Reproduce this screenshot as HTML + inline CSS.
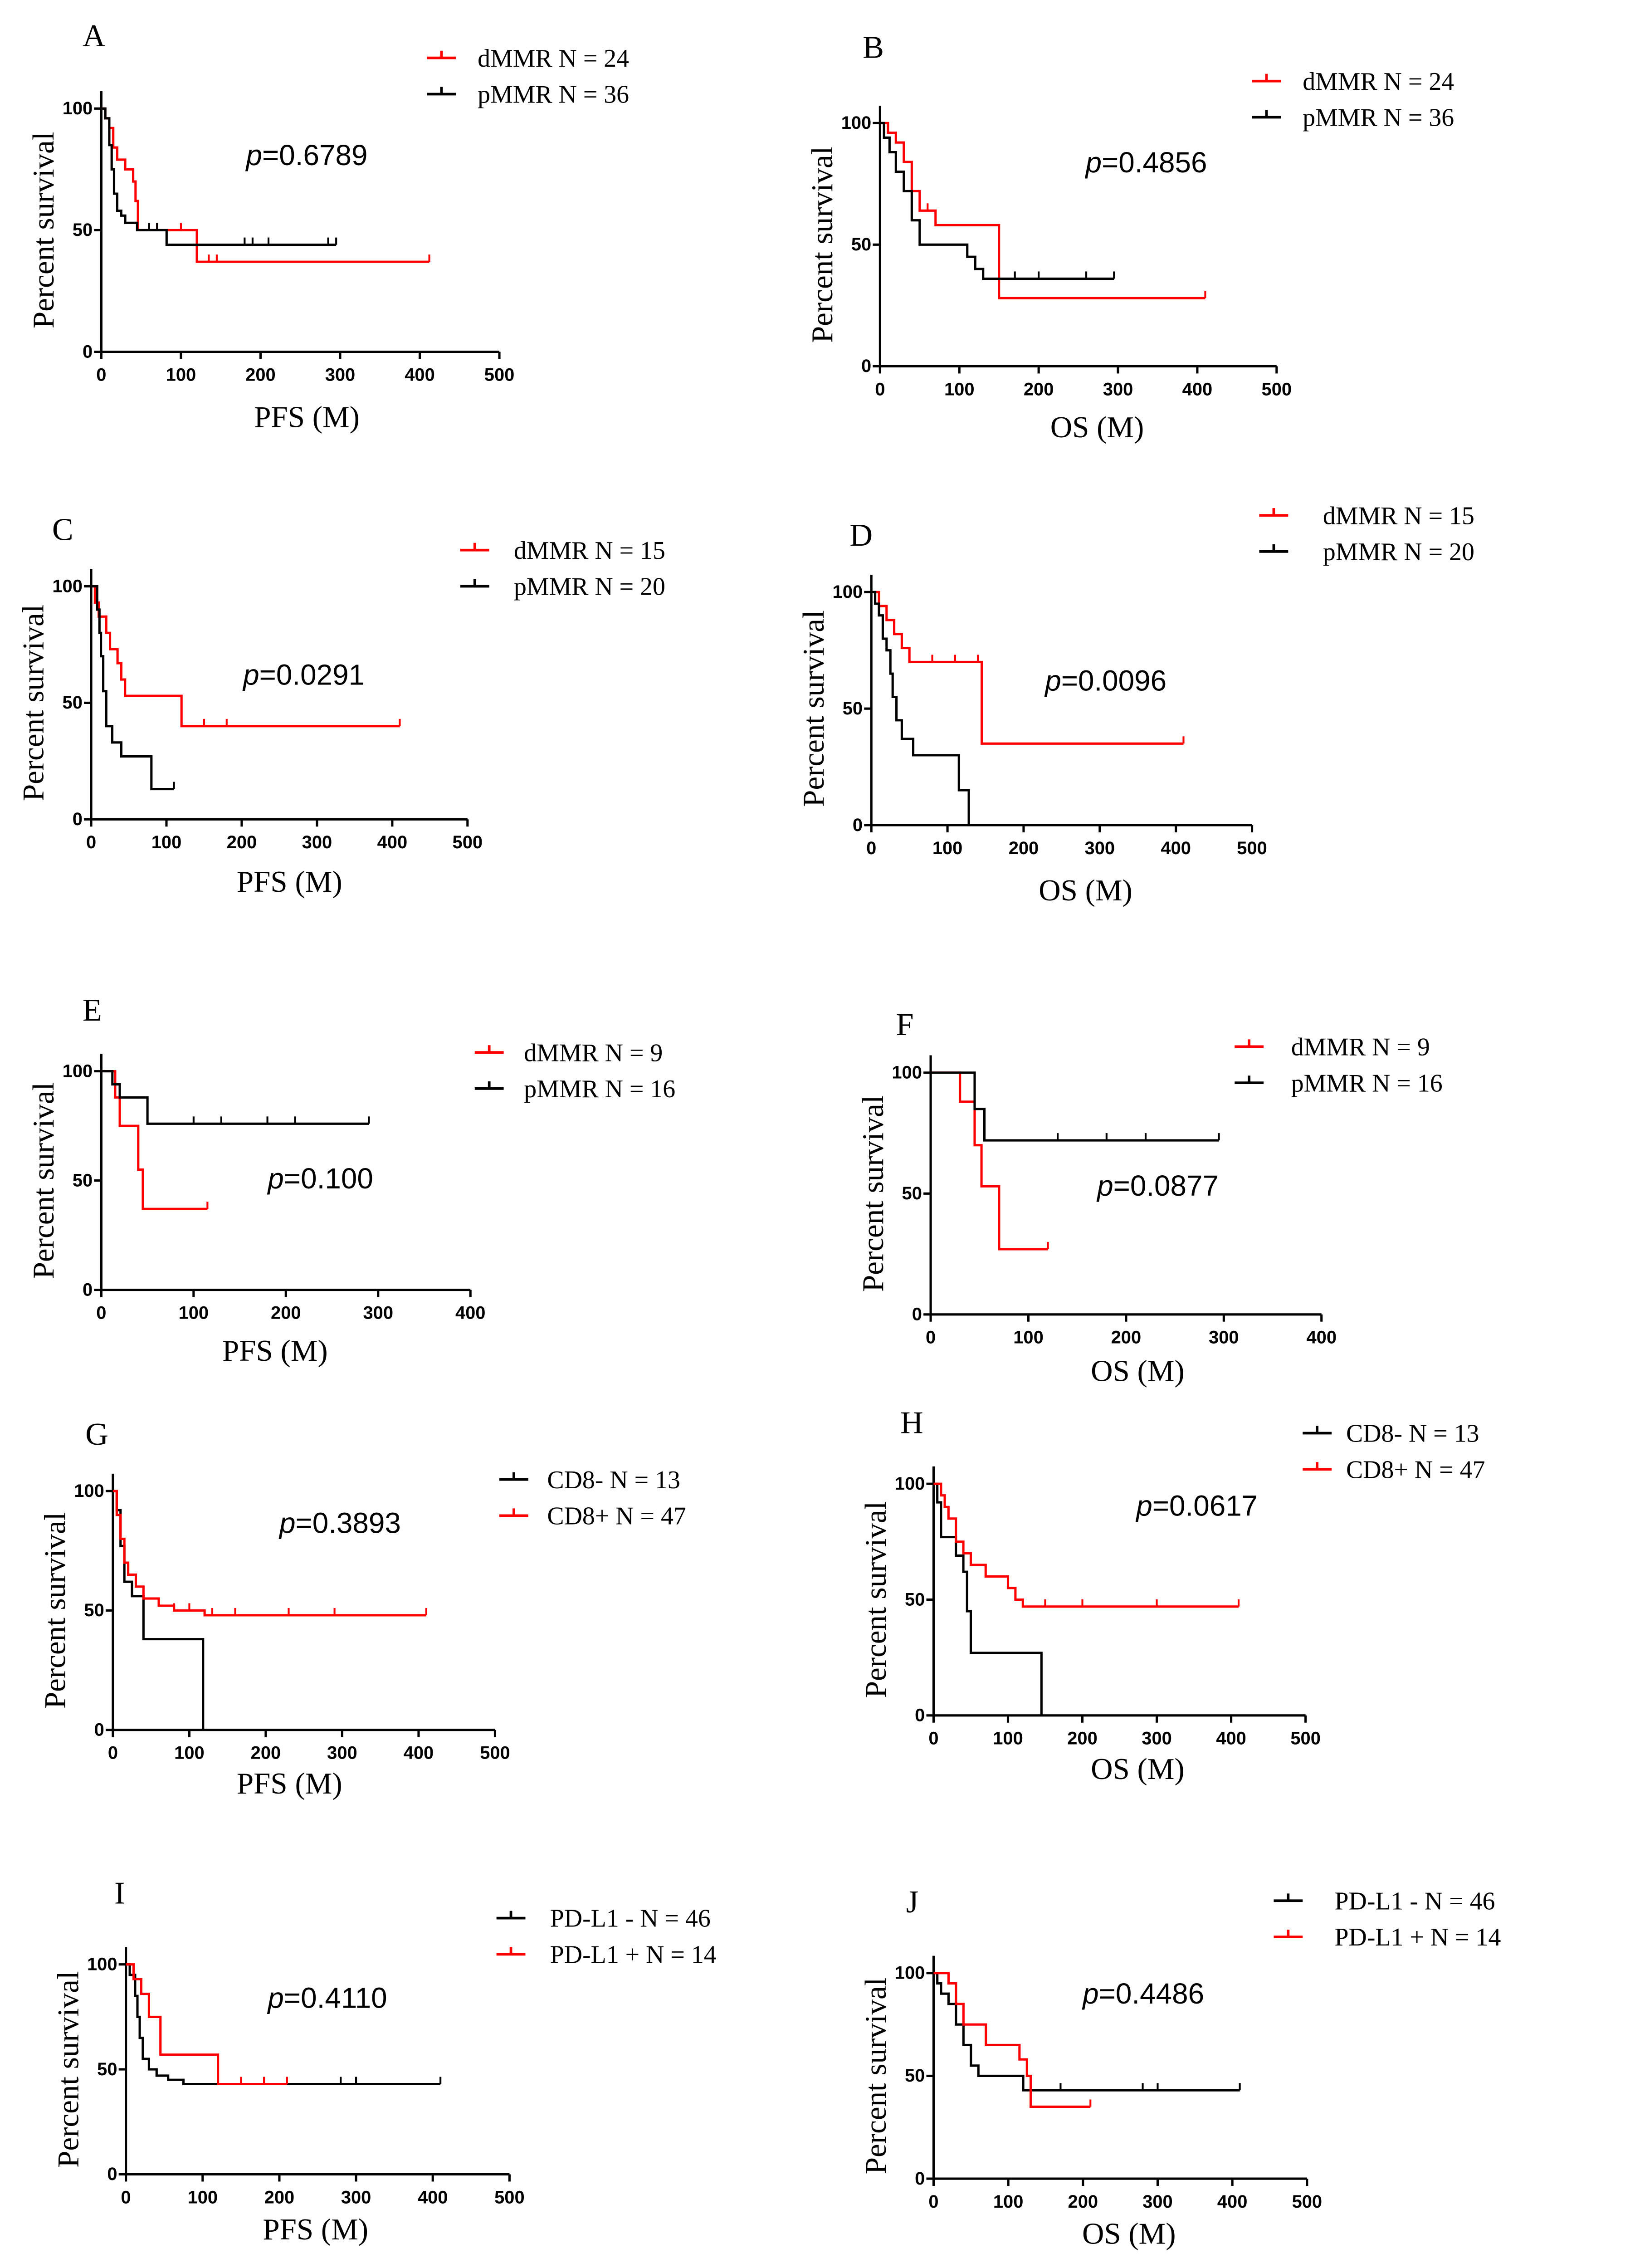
<!DOCTYPE html>
<html><head><meta charset="utf-8"><style>
html,body{margin:0;padding:0;background:#fff;width:3605px;height:5241px;overflow:hidden}
#wrap{width:3605px;height:5241px;overflow:hidden;position:relative}
svg{display:block;position:absolute;left:0;top:0}
.tk{font-family:"Liberation Sans",sans-serif;font-weight:bold;font-size:12.5px;fill:#000}
.lb{font-family:"Liberation Serif",serif;font-size:21px;fill:#000}
.lg{font-family:"Liberation Serif",serif;font-size:17.5px;fill:#000}
.pv{font-family:"Liberation Sans",sans-serif;font-size:20px;fill:#000}
.pl{font-family:"Liberation Serif",serif;font-size:22px;fill:#000}
</style></head><body>
<div id="wrap">
<svg id="fig" width="3605" height="5241" viewBox="0 0 1129.6 1642" preserveAspectRatio="xMinYMin meet" xmlns="http://www.w3.org/2000/svg"></svg>
</div>
<script>
// ---- data: [time, percent] step points ----
const A_red=[[0,100],[5,96],[10,92],[15,84],[20,79],[30,75],[40,70],[43,62],[46,50],[120,50],[120,37],[412,37]];
const A_blk=[[0,100],[5,96],[10,85],[13,75],[16,65],[20,58],[25,56],[30,53],[45,50],[82,50],[82,44],[295,44]];
const B_red=[[0,100],[10,96],[20,92],[30,84],[40,72],[50,64],[70,58],[150,58],[150,28],[410,28]];
const B_blk=[[0,100],[5,94],[12,88],[20,80],[30,72],[40,60],[50,50],[100,50],[110,45],[120,40],[130,36],[295,36]];
const C_red=[[0,100],[5,93],[10,87],[20,80],[25,73],[35,67],[40,60],[45,53],[120,53],[120,40],[410,40]];
const C_blk=[[0,100],[8,90],[11,80],[13,70],[16,55],[20,40],[28,33],[40,27],[80,27],[80,13],[110,13]];
const D_red=[[0,100],[10,94],[20,88],[30,82],[40,76],[50,70],[145,70],[145,35],[410,35]];
const D_blk=[[0,100],[5,95],[10,90],[15,80],[20,75],[25,65],[28,55],[33,45],[40,37],[55,30],[115,30],[115,15],[128,15],[128,0]];
const E_red=[[0,100],[15,88],[20,75],[38,75],[40,55],[45,37],[115,37]];
const E_blk=[[0,100],[12,94],[20,88],[45,88],[50,76],[290,76]];
const F_red=[[0,100],[30,100],[30,88],[45,88],[45,70],[52,53],[65,53],[70,27],[120,27]];
const F_blk=[[0,100],[45,100],[45,85],[55,72],[295,72]];
const G_blk=[[0,100],[5,92],[10,77],[15,62],[25,56],[40,38],[118,38],[118,0]];
const G_red=[[0,100],[5,90],[10,80],[15,70],[20,65],[30,60],[40,55],[60,52],[80,50],[120,48],[410,48]];
const H_blk=[[0,100],[5,92],[10,77],[30,69],[40,62],[45,45],[50,27],[145,27],[145,0]];
const H_red=[[0,100],[10,95],[15,90],[20,85],[30,75],[40,70],[50,65],[70,60],[100,55],[110,50],[120,47],[410,47]];
const I_blk=[[0,100],[5,95],[12,85],[15,75],[18,65],[22,55],[30,50],[40,47],[55,45],[75,43],[410,43]];
const I_red=[[0,100],[10,93],[20,86],[30,75],[45,57],[120,57],[120,43],[210,43]];
const J_blk=[[0,100],[5,95],[10,90],[20,85],[30,75],[40,65],[50,55],[60,50],[120,50],[120,43],[410,43]];
const J_red=[[0,100],[20,95],[30,85],[40,75],[70,65],[110,65],[115,58],[125,50],[130,35],[210,35]];
const A_redC=[70,100,135,145,412],A_blkC=[60,70,180,190,210,285,295];
const B_redC=[60,70,410],B_blkC=[170,200,260,295];
const C_redC=[150,180,410],C_blkC=[110];
const D_redC=[80,110,140,410],D_blkC=[];
const E_redC=[115],E_blkC=[100,130,180,210,290];
const F_redC=[120],F_blkC=[130,180,220,295];
const G_redC=[60,80,100,130,160,230,290,410],G_blkC=[];
const H_redC=[100,150,200,300,410],H_blkC=[];
const I_redC=[150,180,210],I_blkC=[280,300,410];
const J_redC=[210],J_blkC=[170,280,300,410];
const xTicks500=["0","100","200","300","400","500"];
const xTicks400=["0","100","200","300","400"];
const yTicks=["0","50","100"];

const panels=[
 {id:"A",ox:70,oy:243,top:75,xe:345,xmax:500,L:[57,32],lg:[295,40],lgx:330,p:[170,114],xl:"PFS (M)",xlc:[212,295],s:[["dMMR N = 24","red",A_red,A_redC],["pMMR N = 36","#000",A_blk,A_blkC]]},
 {id:"B",ox:608,oy:253,top:85,xe:882,xmax:500,L:[596,40],lg:[865,56],lgx:900,p:[750,119],xl:"OS (M)",xlc:[758,302],s:[["dMMR N = 24","red",B_red,B_redC],["pMMR N = 36","#000",B_blk,B_blkC]]},
 {id:"C",ox:63,oy:566,top:405,xe:323,xmax:500,L:[36,373],lg:[318,380],lgx:355,p:[168,473],xl:"PFS (M)",xlc:[200,616],s:[["dMMR N = 15","red",C_red,C_redC],["pMMR N = 20","#000",C_blk,C_blkC]]},
 {id:"D",ox:602,oy:570,top:409,xe:865,xmax:500,L:[587,377],lg:[870,356],lgx:914,p:[722,477],xl:"OS (M)",xlc:[750,622],s:[["dMMR N = 15","red",D_red,D_redC],["pMMR N = 20","#000",D_blk,D_blkC]]},
 {id:"E",ox:70,oy:891,top:740,xe:325,xmax:400,L:[57,705],lg:[328,727],lgx:362,p:[185,821],xl:"PFS (M)",xlc:[190,940],s:[["dMMR N = 9","red",E_red,E_redC],["pMMR N = 16","#000",E_blk,E_blkC]]},
 {id:"F",ox:643,oy:908,top:741,xe:913,xmax:400,L:[619,715],lg:[853,723],lgx:892,p:[758,826],xl:"OS (M)",xlc:[786,954],s:[["dMMR N = 9","red",F_red,F_redC],["pMMR N = 16","#000",F_blk,F_blkC]]},
 {id:"G",ox:78,oy:1195,top:1030,xe:342,xmax:500,L:[59,998],lg:[345,1022],lgx:378,p:[193,1059],xl:"PFS (M)",xlc:[200,1239],s:[["CD8- N = 13","#000",G_blk,G_blkC],["CD8+ N = 47","red",G_red,G_redC]]},
 {id:"H",ox:645,oy:1185,top:1025,xe:902,xmax:500,L:[622,990],lg:[900,990],lgx:930,p:[785,1047],xl:"OS (M)",xlc:[786,1229],s:[["CD8- N = 13","#000",H_blk,H_blkC],["CD8+ N = 47","red",H_red,H_redC]]},
 {id:"I",ox:87,oy:1502,top:1357,xe:352,xmax:500,L:[79,1315],lg:[343,1325],lgx:380,p:[185,1387],xl:"PFS (M)",xlc:[218,1547],s:[["PD-L1 -  N = 46","#000",I_blk,I_blkC],["PD-L1 + N = 14","red",I_red,I_redC]]},
 {id:"J",ox:645,oy:1505,top:1363,xe:903,xmax:500,L:[626,1321],lg:[880,1313],lgx:922,p:[748,1384],xl:"OS (M)",xlc:[780,1550],s:[["PD-L1 -  N = 46","#000",J_blk,J_blkC],["PD-L1 + N = 14","red",J_red,J_redC]]}
];
const pvals={A:"0.6789",B:"0.4856",C:"0.0291",D:"0.0096",E:"0.100",F:"0.0877",G:"0.3893",H:"0.0617",I:"0.4110",J:"0.4486"};
const NS="http://www.w3.org/2000/svg",fig=document.getElementById("fig");
function mk(t,a,parent,txt){const e=document.createElementNS(NS,t);for(const k in a)e.setAttribute(k,a[k]);if(txt!==undefined)e.textContent=txt;parent.appendChild(e);return e;}
panels.forEach(P=>{
 const g=mk("g",{},fig);
 
 
 const X=v=>P.ox+(v/P.xmax)*(P.xe-P.ox), Y=v=>P.oy-(v/100)*(P.oy-P.top);
 const ticks=P.xmax===400?xTicks400:xTicks500;
 const l=mk("text",{x:P.L[0],y:P.L[1],class:"pl"},g,P.id);
 
 
 const ax=mk("path",{d:`M${P.ox},${P.top-12}V${P.oy}H${P.xe}`,stroke:"#000","stroke-width":1.6,fill:"none"},g);
 
 
 ticks.forEach(t=>{const x=X(+t);mk("line",{x1:x,x2:x,y1:P.oy,y2:P.oy+5,stroke:"#000","stroke-width":1.6},g);
  const tt=mk("text",{x:x,y:P.oy+20,class:"tk","text-anchor":"middle"},g,t);
  
  });
 yTicks.forEach(t=>{const y=Y(+t);mk("line",{x1:P.ox-5,x2:P.ox,y1:y,y2:y,stroke:"#000","stroke-width":1.6},g);
  const tt=mk("text",{x:P.ox-6,y:y+4,class:"tk","text-anchor":"end"},g,t);
  
  });
 const yl=mk("text",{x:0,y:0,class:"lb","text-anchor":"middle",transform:`translate(${P.ox-33},${(P.oy+P.top)/2}) rotate(-90)`},g,"Percent survival");
 
 
 const xl=mk("text",{x:P.xlc[0],y:P.xlc[1],class:"lb","text-anchor":"middle"},g,P.xl);
 
 
 const pv=mk("text",{x:P.p[0],y:P.p[1],class:"pv"},g);
 
 
 mk("tspan",{"font-style":"italic"},pv,"p");mk("tspan",{},pv,"="+pvals[P.id]);
 P.s.forEach((S,i)=>{
  const [name,col,pts,cens]=S;
  let d=`M${X(pts[0][0])},${Y(pts[0][1])}`;
  for(let k=1;k<pts.length;k++){d+=`H${X(pts[k][0])}V${Y(pts[k][1])}`;}
  const c=mk("path",{d:d,stroke:col,"stroke-width":1.6,fill:"none"},g);
  
  
  cens.forEach(t=>{let v=pts[0][1];pts.forEach(p=>{if(p[0]<=t)v=p[1];});
   const m=mk("line",{x1:X(t),x2:X(t),y1:Y(v),y2:Y(v)-5,stroke:col,"stroke-width":1.3},g);
   
   });
  const ly=P.lg[1]+i*25;
  const lm=mk("path",{d:`M${P.lg[0]},${ly}H${P.lg[0]+20}M${P.lg[0]+10},${ly}v-5`,stroke:col,"stroke-width":1.8,fill:"none"},g);
  
  
  const lt=mk("text",{x:P.lgx,y:ly+6,class:"lg"},g,name);
  
  
 });
});
</script>
</body></html>
